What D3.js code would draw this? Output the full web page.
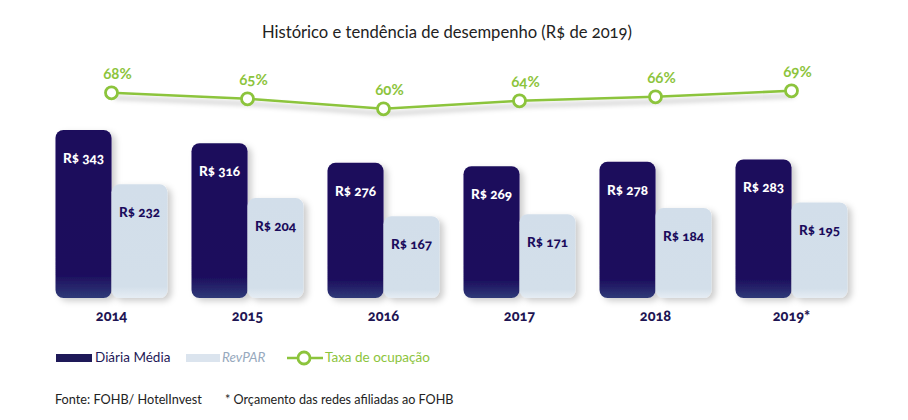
<!DOCTYPE html>
<html><head><meta charset="utf-8">
<script src="https://cdn.jsdelivr.net/npm/d3@7"></script>
<style>
body{margin:0;background:#fff;}
svg{display:block;font-family:Lato,"Open Sans",sans-serif;font-variant-numeric:oldstyle-nums;}
</style></head><body>
<svg id="c" width="908" height="420"></svg>
<script>
const years = ['2014','2015','2016','2017','2018','2019*'];
const diaria = [343,316,276,269,278,283];
const revpar = [232,204,167,171,184,195];
const ocupacao = [68,65,60,64,66,69];
const title = 'Histórico e tendência de desempenho (R$ de 2019)';
const legendLabels = ['Diária Média','RevPAR','Taxa de ocupação'];
const footLeft = 'Fonte: FOHB/ HotelInvest';
const footRight = '* Orçamento das redes afiliadas ao FOHB';

const DARK = '#1b0c5c', GREEN = '#8cc43c';
const svg = d3.select('#c');
const defs = svg.append('defs');
const gd = defs.append('linearGradient').attr('id','gDark').attr('x1',0).attr('y1',0).attr('x2',0).attr('y2',1);
gd.append('stop').attr('offset','0%').attr('stop-color','#1b0b5b');
gd.append('stop').attr('offset','86%').attr('stop-color','#1c0d5d');
gd.append('stop').attr('offset','100%').attr('stop-color','#2f3a78');
const gl = defs.append('linearGradient').attr('id','gLight').attr('x1',0).attr('y1',0).attr('x2',0).attr('y2',1);
gl.append('stop').attr('offset','0%').attr('stop-color','#d2deea');
gl.append('stop').attr('offset','90%').attr('stop-color','#d3dfea');
gl.append('stop').attr('offset','100%').attr('stop-color','#e6edf4');
const fs = defs.append('filter').attr('id','sh').attr('x','-20%').attr('y','-20%').attr('width','150%').attr('height','150%');
fs.append('feDropShadow').attr('dx',4).attr('dy',3).attr('stdDeviation',3).attr('flood-color','#000').attr('flood-opacity',0.2);
const fl = defs.append('filter').attr('id','shl').attr('x','-10%').attr('y','-100%').attr('width','120%').attr('height','400%');
fl.append('feDropShadow').attr('dx',3).attr('dy',5).attr('stdDeviation',2.5).attr('flood-color','#000').attr('flood-opacity',0.28);

const x = d3.scaleBand().domain(years).range([43.5, 859.5]);
const xi = d3.scaleBand().domain(['d','r']).range([12, 124]);
const y = d3.scaleLinear().domain([0, 343]).range([298, 130]);
const yL = d3.scaleLinear().domain([60, 68]).range([108.8, 92.8]);
const cx = d => x(d) + x.bandwidth()/2;

svg.append('text').attr('x',447).attr('y',38).attr('text-anchor','middle')
  .attr('font-size',16.6).attr('fill','#222').text(title);

const g = svg.append('g');
years.forEach((yr,i)=>{
  const vals = [['d',diaria[i]],['r',revpar[i]]];
  vals.forEach(([k,v])=>{
    g.append('rect').attr('x',x(yr)+xi(k)).attr('y',y(v))
      .attr('width',xi.bandwidth()).attr('height',y(0)-y(v))
      .attr('rx',8).attr('ry',8)
      .attr('fill', k==='d' ? 'url(#gDark)' : 'url(#gLight)')
      .attr('filter','url(#sh)');
  });
  vals.forEach(([k,v])=>{
    g.append('text').attr('x',x(yr)+xi(k)+xi.bandwidth()/2).attr('y',y(v)+33)
      .attr('text-anchor','middle').attr('font-size',13.5).attr('font-weight',900)
      .attr('fill', k==='d' ? '#fff' : DARK).text('R$ ' + v);
  });
  g.append('text').attr('x',cx(yr)).attr('y',321).attr('text-anchor','middle')
    .attr('font-size',14.5).attr('font-weight',900).attr('fill','#1e1553').text(yr);
});

const line = d3.line().x((d,i)=>cx(years[i])).y(d=>yL(d));
svg.append('path').datum(ocupacao).attr('d',line).attr('fill','none')
  .attr('stroke',GREEN).attr('stroke-width',2.6).attr('filter','url(#shl)');
svg.selectAll('circle.pt').data(ocupacao).join('circle').attr('class','pt')
  .attr('cx',(d,i)=>cx(years[i])).attr('cy',d=>yL(d)).attr('r',6)
  .attr('fill','#fff').attr('stroke',GREEN).attr('stroke-width',2.8);
svg.selectAll('text.pl').data(ocupacao).join('text').attr('class','pl')
  .attr('x',(d,i)=>cx(years[i])+6).attr('y',d=>yL(d)-14).attr('text-anchor','middle')
  .attr('font-size',15).attr('font-weight',700).attr('fill',GREEN).text(d=>d+'%');

// legend
const lg = svg.append('g');
lg.append('rect').attr('x',56).attr('y',354).attr('width',36).attr('height',8).attr('fill','#1e1958');
lg.append('text').attr('x',95).attr('y',362).attr('font-size',13.5).attr('fill','#1e1958').text(legendLabels[0]);
lg.append('rect').attr('x',186).attr('y',354).attr('width',34).attr('height',8).attr('fill','#dbe4ee');
lg.append('text').attr('x',222).attr('y',362).attr('font-size',13.5).attr('font-style','italic').attr('fill','#97a9bd').text(legendLabels[1]);
lg.append('line').attr('x1',287).attr('x2',323).attr('y1',358).attr('y2',358).attr('stroke',GREEN).attr('stroke-width',2.6);
lg.append('circle').attr('cx',304).attr('cy',358).attr('r',6).attr('fill','#fff').attr('stroke',GREEN).attr('stroke-width',2.8);
lg.append('text').attr('x',325).attr('y',362).attr('font-size',13.5).attr('fill',GREEN).text(legendLabels[2]);

svg.append('text').attr('x',55).attr('y',404).attr('font-size',12.7).attr('fill','#222').text(footLeft);
svg.append('text').attr('x',225).attr('y',404).attr('font-size',12.6).attr('fill','#222').text(footRight);
</script></body></html>
